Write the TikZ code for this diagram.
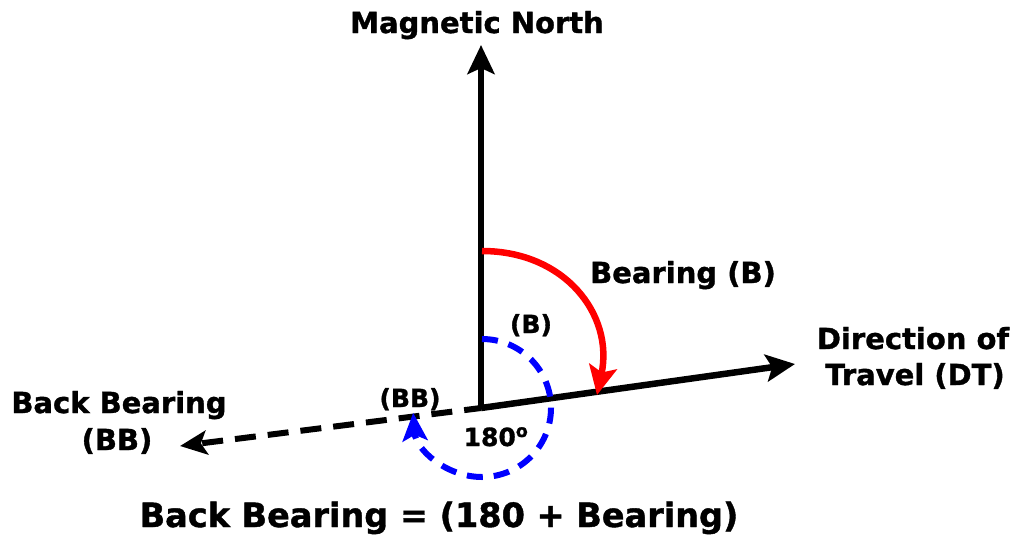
\documentclass[tikz,border=0pt]{standalone}
\usepackage{fontspec}
\setmainfont{DejaVu Sans}[BoldFeatures={FakeBold=1.2}]
\usetikzlibrary{arrows.meta}
\definecolor{redarc}{RGB}{255,0,0}
\definecolor{bluearc}{RGB}{0,0,255}
\tikzset{
  lab/.style={font=\fontsize{29}{36}\selectfont\bfseries, align=center, inner sep=0pt, anchor=base},
  smalllab/.style={font=\fontsize{25}{30}\selectfont\bfseries, inner sep=0pt, anchor=base},
  biglab/.style={font=\fontsize{33.5}{40}\selectfont\bfseries, inner sep=0pt, anchor=base},
  axisline/.style={line width=6.5pt, black},
  bigtip/.style={-{Stealth[length=29pt,width=27pt,inset=6pt]}},
  bbline/.style={line width=6pt, black, dash pattern=on 21pt off 12pt, dash phase=4pt},
  redline/.style={line width=6.5pt, redarc, -{Stealth[length=29pt,width=28pt,inset=6pt]}},
  blueline/.style={line width=6pt, bluearc, dash pattern=on 16pt off 11pt, -{Stealth[length=28pt,width=25pt,inset=6pt]}}
}
\begin{document}
\begin{tikzpicture}[x=1pt,y=-1pt]
\useasboundingbox (0,0) rectangle (1016,536);
\coordinate (O) at (481,408);
\coordinate (N) at (481,45);
\coordinate (DT) at (795,364);
\coordinate (BBt) at (180,446);
\coordinate (Rs) at (482,251);
\coordinate (Re) at (597,395);
\coordinate (Bs) at (482,339);

\node[lab] (mn) at (477,33) {Magnetic North};
\node[lab] (bear) at (683,283) {Bearing (B)};
\node[lab] (dir1) at (913,349) {Direction of};
\node[lab] (dir2) at (915,385) {Travel (DT)};
\node[lab] (bb1) at (119,413) {Back Bearing};
\node[lab] (bb2) at (117,450) {(BB)};
\node[smalllab] (bsm) at (531,333) {(B)};
\node[smalllab] (bbsm) at (410,407) {(BB)};
\node[smalllab] (deg) at (496,446) {180\textsuperscript{o}};
\node[biglab] (eq) at (439,527) {Back Bearing = (180 + Bearing)};

\draw[bbline, -{Stealth[length=27pt,width=24pt,inset=6pt]}] (O) -- (BBt);
\draw[axisline, bigtip] (O) -- (N);
\draw[axisline, bigtip] (O) -- (DT);
\draw[redline] (Rs) .. controls (565,251) and (614,315) .. (Re);
\draw[blueline] (Bs) arc[start angle=-90, end angle=176, radius=69];
\end{tikzpicture}
\end{document}
